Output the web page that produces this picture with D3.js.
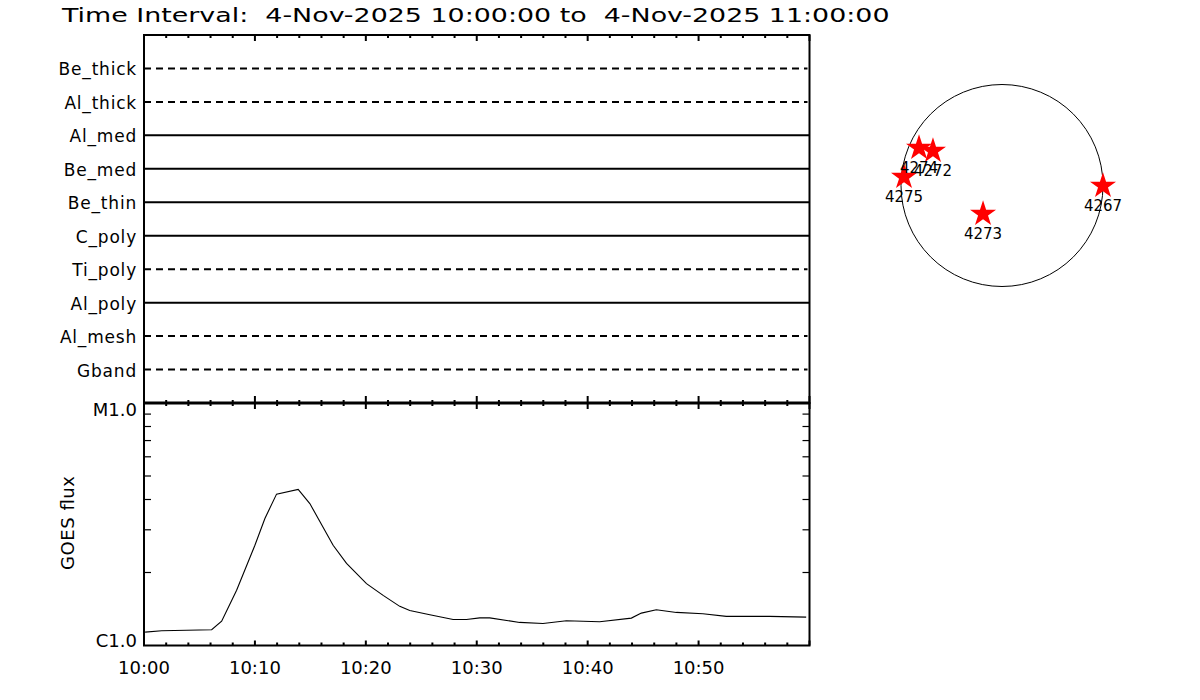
<!DOCTYPE html>
<html><head><meta charset="utf-8">
<script src="https://cdn.jsdelivr.net/npm/d3@7"></script>
<style>
body{margin:0;background:#fff;}
svg text{font-family:"DejaVu Sans",sans-serif;fill:#000;}
</style></head>
<body><svg id="c" width="1200" height="700"></svg>
<script>
// ---------- data ----------
const titleText = "Time Interval:  4-Nov-2025 10:00:00 to  4-Nov-2025 11:00:00";
const detectors = ["Be_thick","Al_thick","Al_med","Be_med","Be_thin","C_poly","Ti_poly","Al_poly","Al_mesh","Gband"];
const detectorDashed = [true,true,false,false,false,false,true,false,true,true];
const timeStart = "2025-11-04T10:00:00";
const timeEnd = "2025-11-04T11:00:00";
const xTickLabels = ["10:00","10:10","10:20","10:30","10:40","10:50"];
const goesMinutes = [0.1,1.6,6.1,7.0,8.35,10.0,10.9,11.95,13.9,14.95,17.05,18.26,20.06,21.56,23.06,23.96,25.77,27.87,29.07,30.27,31.17,33.87,35.97,38.08,41.08,43.94,44.84,46.19,48.0,50.39,52.5,56.4,59.7];
const goesFlux = [1.135e-6,1.15e-6,1.161e-6,1.26e-6,1.69e-6,2.59e-6,3.34e-6,4.21e-6,4.40e-6,3.85e-6,2.59e-6,2.18e-6,1.80e-6,1.61e-6,1.45e-6,1.395e-6,1.34e-6,1.28e-6,1.28e-6,1.30e-6,1.30e-6,1.245e-6,1.233e-6,1.265e-6,1.253e-6,1.297e-6,1.36e-6,1.405e-6,1.369e-6,1.352e-6,1.318e-6,1.318e-6,1.309e-6];
const yTickValues = [1e-6,1e-5];
const yTickLabels = ["C1.0","M1.0"];
const regionNames = ["4274","4272","4275","4273","4267"];
const regionX = [-797,-663,-941,-182,970];   // arcsec
const regionY = [370,341,91,-264,5];          // arcsec
const solarRadius = 970;

// ---------- layout ----------
const svg = d3.select("#c");
const L = 144, R = 809.5, T = 35, M = 403, B = 645.5;
const t0 = new Date(timeStart), t1 = new Date(timeEnd);
const x = d3.scaleTime().domain([t0,t1]).range([L,R]);
const yDet = d3.scalePoint().domain(detectors).range([T,M]).padding(1);
const yG = d3.scaleLog().domain([1e-6,1e-5]).range([B,M]);

// title (glyphs stretched horizontally to mimic the wide vector font)
const title = svg.append("text").attr("x",0).attr("y",0).attr("font-size",19)
  .attr("xml:space","preserve").style("white-space","pre").text(titleText);
const natW = title.node().getComputedTextLength();
title.attr("transform",`translate(62,22) scale(${828/natW},1)`);

// detector lines
detectors.forEach((d,i)=>{
  svg.append("line").attr("x1",L).attr("x2",detectorDashed[i]?R-2:R)
    .attr("y1",yDet(d)).attr("y2",yDet(d))
    .attr("stroke","#000").attr("stroke-width",2)
    .attr("stroke-dasharray",detectorDashed[i]?"7,5":null);
  svg.append("text").attr("x",137).attr("y",yDet(d)+7).attr("text-anchor","end")
    .attr("font-size",17).attr("letter-spacing",0.8).text(d);
});

// GOES curve
const line = d3.line().x(d=>x(new Date(t0.getTime()+d[0]*60000))).y(d=>yG(d[1])).curve(d3.curveLinear);
svg.append("path").datum(goesMinutes.map((m,i)=>[m,goesFlux[i]]))
  .attr("d",line).attr("fill","none").attr("stroke","#000").attr("stroke-width",1.1);

// frames
const frame = svg.append("g").attr("fill","none").attr("stroke","#000").attr("stroke-width",2);
frame.append("rect").attr("x",L).attr("y",T).attr("width",R-L).attr("height",M-T);
frame.append("rect").attr("x",L).attr("y",M).attr("width",R-L).attr("height",B-M);
frame.append("line").attr("x1",L).attr("x2",R).attr("y1",M).attr("y2",M).attr("stroke-width",3);

// time ticks
const minor = x.ticks(d3.timeMinute.every(2));
const tg = svg.append("g").attr("stroke","#000").attr("stroke-width",2);
minor.forEach(d=>{
  const isMajor = d.getMinutes()%10===0;
  const xx = x(d);
  const lt = isMajor?6:3;
  tg.append("line").attr("x1",xx).attr("x2",xx).attr("y1",T).attr("y2",T+lt);
  tg.append("line").attr("x1",xx).attr("x2",xx).attr("y1",M-(isMajor?7:3)).attr("y2",M+(isMajor?6:3));
  tg.append("line").attr("x1",xx).attr("x2",xx).attr("y1",B).attr("y2",B-(isMajor?5:3));
});
xTickLabels.forEach((lab,i)=>{
  const d = new Date(t0.getTime()+i*600000);
  svg.append("text").attr("x",x(d)).attr("y",674).attr("text-anchor","middle")
    .attr("font-size",18).text(lab);
});

// log y minor ticks left & right
const yMinor = [2,3,4,5,6,7,8,9].map(k=>k*1e-6);
const yg = svg.append("g").attr("stroke","#000").attr("stroke-width",1.2);
yMinor.forEach(v=>{
  yg.append("line").attr("x1",L).attr("x2",L+7).attr("y1",yG(v)).attr("y2",yG(v));
  yg.append("line").attr("x1",R).attr("x2",R-7).attr("y1",yG(v)).attr("y2",yG(v));
});
yTickValues.forEach((v,i)=>{
  svg.append("text").attr("x",137).attr("y",i===0?yG(v)+1:yG(v)+13).attr("text-anchor","end")
    .attr("font-size",18).text(yTickLabels[i]);
});
svg.append("text").attr("transform","translate(74,523) rotate(-90)").attr("text-anchor","middle")
  .attr("font-size",18).attr("textLength",94).attr("lengthAdjust","spacing").text("GOES flux");

// solar disk
const cx = 1002, cy = 185.5, rad = 101;
const sx = d3.scaleLinear().domain([-solarRadius,solarRadius]).range([cx-rad,cx+rad]);
const sy = d3.scaleLinear().domain([-solarRadius,solarRadius]).range([cy+rad,cy-rad]);
svg.append("circle").attr("cx",cx).attr("cy",cy).attr("r",rad)
  .attr("fill","none").attr("stroke","#000").attr("stroke-width",1);
const star = d3.symbol().type(d3.symbolStar).size(210);
regionNames.forEach((n,i)=>{
  svg.append("path").attr("d",star()).attr("fill","#ff0000")
    .attr("transform",`translate(${sx(regionX[i])},${sy(regionY[i])+1})`);
});
regionNames.forEach((n,i)=>{
  svg.append("text").attr("x",sx(regionX[i])).attr("y",sy(regionY[i])+26)
    .attr("text-anchor","middle").attr("font-size",15).text(n);
});
</script></body></html>
